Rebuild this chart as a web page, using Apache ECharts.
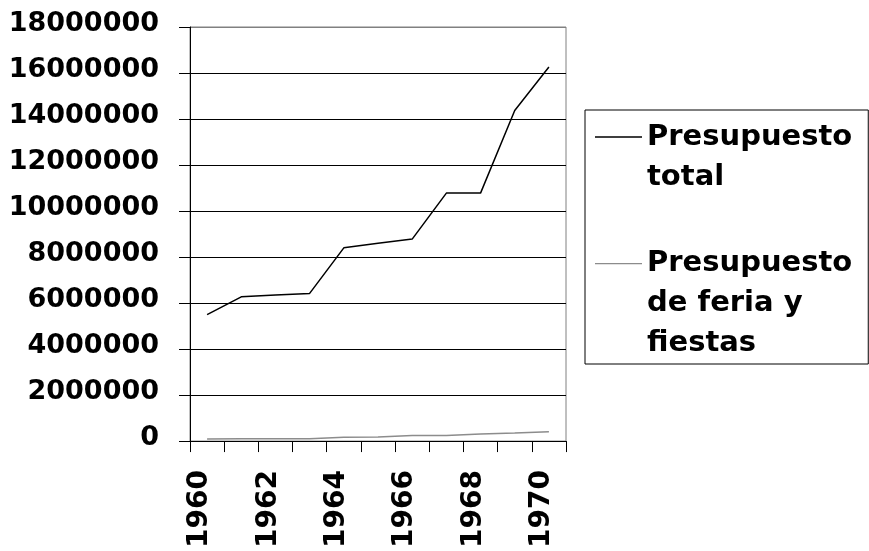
<!DOCTYPE html>
<html>
	<head>
		<meta charset="utf-8">
		<title></title>
		<style type="text/css">
			html, body{
				margin: 0;
				padding: 0;
				background: #fff;
			}
			#main{
				width: 869px;
				height: 551px;
			}
		</style>
	</head>
	<body>
		<div id="main"></div>
	</body>
<script src="https://cdn.jsdelivr.net/npm/echarts@6/dist/echarts.min.js" type="text/javascript" charset="utf-8"></script>
<script type="text/javascript">
	// datos
	var years = ['1960', '1961', '1962', '1963', '1964', '1965', '1966', '1967', '1968', '1969', '1970'];
	var presupuestoTotal = [5500000, 6270000, 6350000, 6420000, 8400000, 8600000, 8780000, 10780000, 10780000, 14370000, 16260000];
	var presupuestoFeria = [95000, 98000, 100000, 105000, 170000, 175000, 240000, 245000, 310000, 350000, 400000];
	var seriesNames = ['Presupuesto total', 'Presupuesto de feria y fiestas'];
	var legendLabels = ['Presupuesto\ntotal', 'Presupuesto\nde feria y\nfiestas'];
	var colores = ['#000', '#8c8c8c'];

	var font = 'DejaVu Sans';
	var chartDom = document.getElementById('main');
	var myChart = echarts.init(chartDom);
	var option;

	option = {
		animation: false,
		grid: {
			left: 190,
			top: 27,
			right: 303,
			bottom: 107,
			show: true,
			borderColor: '#808080',
			borderWidth: 1
		},
		legend: {
			orient: 'vertical',
			left: 585,
			top: 110,
			padding: [7, 16, 1, 10],
			itemGap: 46,
			itemWidth: 47,
			itemHeight: 80,
			borderColor: '#000',
			borderWidth: 1,
			textStyle: {
				fontFamily: font,
				fontWeight: 'bold',
				fontSize: 29,
				lineHeight: 40,
				color: '#000'
			},
			formatter: function(name){
				return legendLabels[seriesNames.indexOf(name)];
			},
			// iconos: raya fina a la altura de la primera linea del texto
			data: [
				{
					name: seriesNames[0],
					icon: 'path://M0,0L0.01,0L0.01,0.01ZM0,19.3L47,19.3L47,20.7L0,20.7ZM0,80L0.01,80L0.01,79.99Z',
					itemStyle: {color: colores[0], borderWidth: 0}
				},
				{
					name: seriesNames[1],
					icon: 'path://M0,0L47,0L47,1.2L0,1.2ZM0,80L0.01,80L0.01,79.99Z',
					itemStyle: {color: colores[1], borderWidth: 0}
				}
			]
		},
		xAxis: {
			type: 'category',
			data: years,
			boundaryGap: true,
			axisLine: {lineStyle: {color: '#000', width: 1}},
			axisTick: {show: true, interval: 0, length: 11, lineStyle: {color: '#000'}},
			axisLabel: {
				interval: 1,
				rotate: 90,
				margin: 29,
				verticalAlign: 'bottom',
				lineHeight: 14,
				fontFamily: font,
				fontWeight: 'bold',
				fontSize: 28,
				color: '#000'
			},
			splitLine: {show: false}
		},
		yAxis: {
			type: 'value',
			min: 0,
			max: 18000000,
			interval: 2000000,
			axisLine: {show: true, lineStyle: {color: '#000', width: 1}},
			axisTick: {show: true, length: 11, lineStyle: {color: '#000'}},
			axisLabel: {
				margin: 31,
				verticalAlign: 'bottom',
				lineHeight: 6,
				fontFamily: font,
				fontWeight: 'bold',
				fontSize: 27,
				color: '#000',
				formatter: function(v){ return String(v); }
			},
			splitLine: {
				show: true,
				lineStyle: {
					color: ['#000', '#000', '#000', '#000', '#000', '#000', '#000', '#000', '#000', '#808080'],
					width: 1
				}
			}
		},
		series: [
			{
				name: seriesNames[0],
				type: 'line',
				data: presupuestoTotal,
				showSymbol: false,
				color: colores[0],
				lineStyle: {color: colores[0], width: 1.5}
			},
			{
				name: seriesNames[1],
				type: 'line',
				data: presupuestoFeria,
				showSymbol: false,
				color: colores[1],
				lineStyle: {color: colores[1], width: 1.5}
			}
		]
	};

	option && myChart.setOption(option);
</script>
</html>
